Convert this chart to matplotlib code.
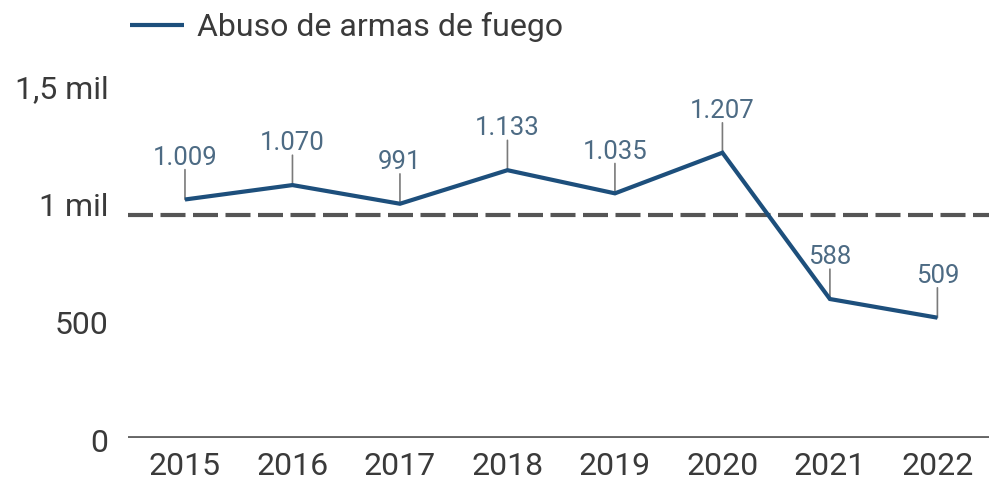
import matplotlib
matplotlib.use("Agg")
import matplotlib.pyplot as plt
import matplotlib.transforms as mtransforms
import numpy as np

plt.rcParams['font.family'] = ['Roboto', 'DejaVu Sans']

years = ["2015", "2016", "2017", "2018", "2019", "2020", "2021", "2022"]
values = [1009, 1070, 991, 1133, 1035, 1207, 588, 509]
value_labels = ["1.009", "1.070", "991", "1.133", "1.035", "1.207", "588", "509"]
series_name = "Abuso de armas de fuego"
ytick_values = [0, 500, 1000, 1500]
ytick_labels = ["0", "500", "1 mil", "1,5 mil"]

W, H = 989, 488
fig = plt.figure(figsize=(W / 100, H / 100), dpi=100)
ax = fig.add_axes([128 / W, (H - 438) / H, 1 - 128 / W, (438 - 59.8) / H])

x = np.arange(len(years))
line_color = "#1d4f7c"
label_color = "#4d6b84"
text_color = "#3a3a3a"

ax.plot(x, values, color=line_color, lw=3.0, solid_joinstyle="miter",
        solid_capstyle="butt", label=series_name, zorder=4)

mean_val = np.mean(values)
ax.axhline(mean_val, color="#555555", lw=3.0, dashes=(6, 1.8), zorder=2)
ax.axhline(0, color="#666666", lw=2.8, zorder=2)

for xi, v, lab in zip(x, values, value_labels):
    ax.annotate("", xy=(xi, v), xytext=(0, 21.5), textcoords="offset points",
                arrowprops=dict(arrowstyle="-", color="#7a7a7a", lw=1.2,
                                shrinkA=0, shrinkB=0), zorder=3)
    ax.annotate(lab, xy=(xi, v), xytext=(0, 25), textcoords="offset points",
                ha="center", va="baseline", fontsize=18.5, color=label_color)

ax.set_xlim(-0.53, 7.48)
ax.set_ylim(0, 1600)
ax.set_xticks(x)
ax.set_xticklabels(years)
ax.set_yticks(ytick_values)
ax.set_yticklabels(ytick_labels)
ax.tick_params(axis="both", length=0, labelsize=23, colors=text_color)
ax.tick_params(axis="y", pad=14)
ax.tick_params(axis="x", pad=10)
shift = mtransforms.ScaledTranslation(0, -3 / 100, fig.dpi_scale_trans)
for lbl in ax.get_yticklabels():
    lbl.set_transform(lbl.get_transform() + shift)
for s in ax.spines.values():
    s.set_visible(False)

leg = ax.legend(loc="center left", bbox_to_anchor=(130 / W, 1 - 27 / H),
                bbox_transform=fig.transFigure, frameon=False, borderpad=0,
                borderaxespad=0, handlelength=1.7, handletextpad=0.4,
                fontsize=23)
for t in leg.get_texts():
    t.set_color(text_color)

fig.savefig("out.png", dpi=100)
